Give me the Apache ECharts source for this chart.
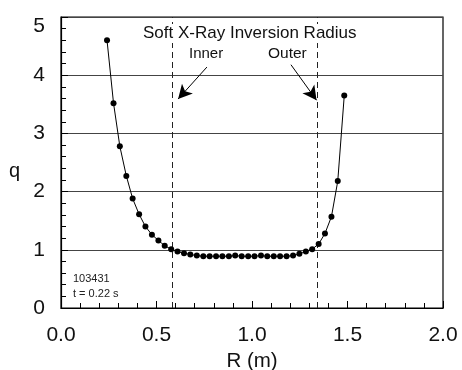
<!DOCTYPE html>
<html>
<head>
<meta charset="utf-8">
<script src="https://cdn.jsdelivr.net/npm/echarts@6/dist/echarts.min.js"></script>
<style>
  html, body { margin: 0; padding: 0; background: #fff; }
  #chart { width: 462px; height: 370px; }
</style>
</head>
<body>
<div id="chart"></div>
<script>
// q profile versus major radius R, shot 103431 at t = 0.22 s
const radius = [
  0.241, 0.275, 0.308, 0.342, 0.375, 0.409, 0.442, 0.476, 0.510, 0.543,
  0.577, 0.610, 0.644, 0.677, 0.711, 0.745, 0.778, 0.812, 0.845, 0.879,
  0.912, 0.946, 0.980, 1.013, 1.047, 1.080, 1.114, 1.147, 1.181, 1.215,
  1.248, 1.282, 1.315, 1.349, 1.382, 1.416, 1.449, 1.483
];
const qValues = [
  4.60, 3.52, 2.78, 2.27, 1.88, 1.61, 1.40, 1.26, 1.16, 1.07,
  1.01, 0.97, 0.94, 0.92, 0.90, 0.89, 0.89, 0.89, 0.89, 0.89,
  0.90, 0.89, 0.89, 0.89, 0.90, 0.89, 0.89, 0.89, 0.89, 0.90,
  0.93, 0.97, 1.01, 1.10, 1.28, 1.57, 2.18, 3.65
];
// soft X-ray inversion radii (inner, outer)
const inversionRadii = [0.583, 1.340];
const xTicks = [0.0, 0.5, 1.0, 1.5, 2.0];
const yTicks = [0, 1, 2, 3, 4, 5];

const FONT = 'Liberation Sans, Arial, sans-serif';
const points = radius.map((r, i) => [r, qValues[i]]);

const chart = echarts.init(document.getElementById('chart'), null, { renderer: 'canvas' });

chart.setOption({
  animation: false,
  backgroundColor: '#fff',
  grid: {
    left: 61, top: 17, right: 19, bottom: 62,
    containLabel: false, outerBoundsMode: 'none',
    show: true, borderColor: '#000', borderWidth: 1.2
  },
  xAxis: {
    type: 'value',
    min: xTicks[0], max: xTicks[xTicks.length - 1], interval: 0.5,
    name: 'R (m)', nameLocation: 'middle', nameGap: 42,
    nameTextStyle: { fontFamily: FONT, fontSize: 20.5, color: '#111' },
    axisLine: { show: true, lineStyle: { color: '#000', width: 1.2 } },
    axisTick: { show: true, inside: true, length: 7, lineStyle: { color: '#000' } },
    minorTick: { show: true, splitNumber: 5, length: 5, lineStyle: { color: '#000' } },
    axisLabel: {
      margin: 17, fontFamily: FONT, fontSize: 21, color: '#111',
      formatter: v => v.toFixed(1)
    },
    splitLine: { show: false }
  },
  yAxis: {
    type: 'value',
    min: yTicks[0], max: yTicks[yTicks.length - 1], interval: 1,
    axisLine: { show: true, lineStyle: { color: '#000', width: 1.2 } },
    axisTick: { show: true, inside: true, length: 7, lineStyle: { color: '#000' } },
    minorTick: { show: true, splitNumber: 5, length: 5, lineStyle: { color: '#000' } },
    axisLabel: {
      margin: 16, fontFamily: FONT, fontSize: 21, color: '#111',
      formatter: v => (v === 5 ? '{low|5}' : String(v)),
      rich: { low: { fontFamily: FONT, fontSize: 21, color: '#111', padding: [18, 0, 0, 0] } }
    },
    splitLine: { show: true, lineStyle: { color: '#444', width: 1 } }
  },
  series: [{
    type: 'line',
    data: points,
    symbol: 'circle',
    symbolSize: 6,
    showSymbol: true,
    lineStyle: { color: '#000', width: 1 },
    itemStyle: { color: '#000' },
    z: 5,
    markLine: {
      silent: true,
      symbol: ['none', 'none'],
      label: { show: false },
      lineStyle: { color: '#222', type: [6, 4], width: 1 },
      data: inversionRadii.map(r => ({ xAxis: r }))
    }
  }, {
    // arrows pointing at the inversion radii
    type: 'line',
    data: [],
    markLine: {
      silent: true,
      symbol: ['none', 'arrow'],
      symbolSize: [11, 14],
      label: { show: false },
      lineStyle: { color: '#000', type: 'solid', width: 1 },
      data: [
        [{ coord: [0.764, 4.14] }, { coord: [0.613, 3.59] }],
        [{ coord: [1.204, 4.18] }, { coord: [1.338, 3.57] }]
      ]
    }
  }],
  graphic: [
    { type: 'text', x: 142, y: 33.5, z: 100,
      style: { text: 'Soft X-Ray Inversion Radius', font: '17px ' + FONT, fill: '#111',
               verticalAlign: 'middle', backgroundColor: '#fff', padding: [1, 1] } },
    { type: 'text', x: 189, y: 53.5, z: 100,
      style: { text: 'Inner', font: '15px ' + FONT, fill: '#111', verticalAlign: 'middle' } },
    { type: 'text', x: 268, y: 53.5, z: 100,
      style: { text: 'Outer', font: '15.5px ' + FONT, fill: '#111', verticalAlign: 'middle' } },
    { type: 'text', x: 9, y: 171, z: 100,
      style: { text: 'q', font: '20px ' + FONT, fill: '#111', verticalAlign: 'middle' } },
    { type: 'text', x: 73, y: 279, z: 100,
      style: { text: '103431', font: '11px ' + FONT, fill: '#222', verticalAlign: 'middle' } },
    { type: 'text', x: 73, y: 294, z: 100,
      style: { text: 't = 0.22 s', font: '11px ' + FONT, fill: '#222', verticalAlign: 'middle' } }
  ]
});
</script>
</body>
</html>
